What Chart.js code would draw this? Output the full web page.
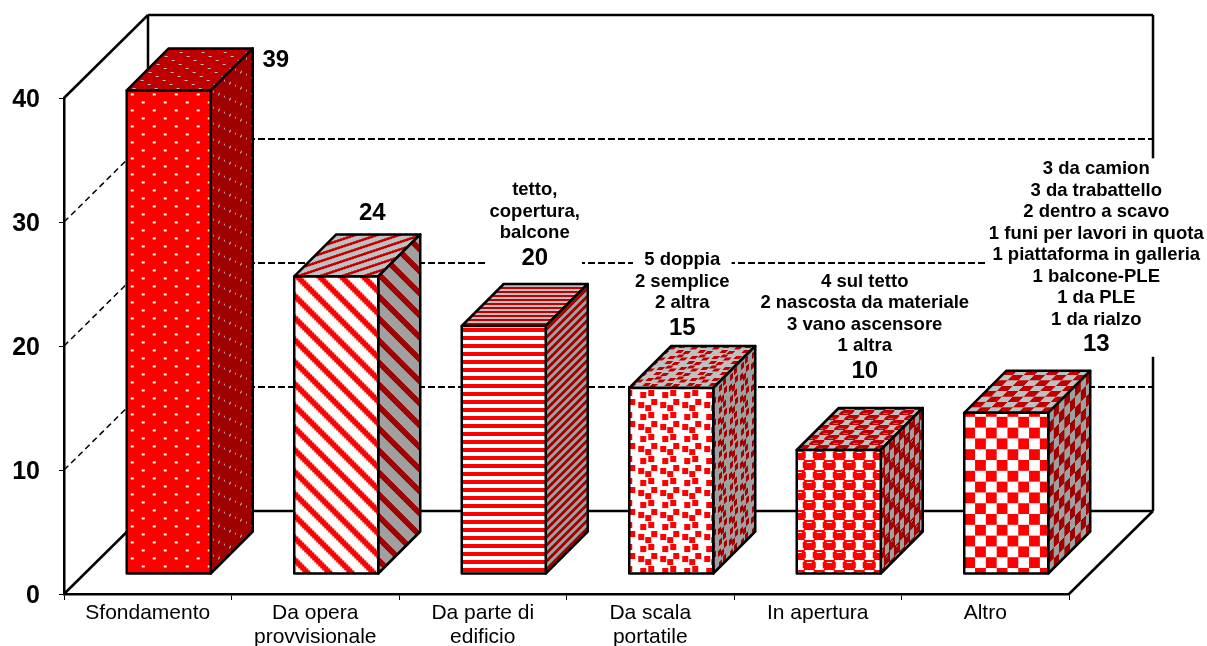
<!DOCTYPE html>
<html>
<head>
<meta charset="utf-8">
<title>Cadute dall'alto</title>
<script src="https://cdn.jsdelivr.net/npm/chart.js@4"></script>
<style>
  html, body { margin: 0; padding: 0; background: #fff; }
  canvas { display: block; }
</style>
</head>
<body>
<canvas id="myChart" width="1207" height="646"></canvas>
<script>
const categories = [
    'Sfondamento',
    ['Da opera', 'provvisionale'],
    ['Da parte di', 'edificio'],
    ['Da scala', 'portatile'],
    'In apertura',
    'Altro'
];
const values = [39, 24, 20, 15, 10, 13];
const notes = [
    [],
    [],
    ['tetto,', 'copertura,', 'balcone'],
    ['5 doppia', '2 semplice', '2 altra'],
    ['4 sul tetto', '2 nascosta da materiale', '3 vano ascensore', '1 altra'],
    ['3 da camion', '3 da trabattello', '2 dentro a scavo', '1 funi per lavori in quota',
     '1 piattaforma in galleria', '1 balcone-PLE', '1 da PLE', '1 da rialzo']
];
const yTicks = [0, 10, 20, 30, 40];

const FONT = '"Liberation Sans", Arial, sans-serif';
// profondità del grafico 3D (pareti) e delle barre
const WALL_X = 84, WALL_Y = 83;
const BAR_X = 42, BAR_Y = 42;
const SHIFT_X = 21, SHIFT_Y = 20;
const EDGE = 2.5;
// spostamento etichette rispetto al centro della barra / spigolo alto posteriore
const labelDx = [107, 36, 31, 11, 26, 90];
const labelDy = [-12, 21, 26, 18, 37, 26];

const FRONT = { red: '#ff0000', pale: '#ffffff' };
const TOP = { red: '#c00000', pale: '#c0c0c0' };
const SIDE = { red: '#a00000', pale: '#a0a0a0' };

// Tessere dei retini, una per barra
const tiles = [
    { w: 22, h: 16, oy: 0, draw(c, col) {
        c.fillStyle = col.red; c.fillRect(0, 0, 22, 16);
        c.fillStyle = col.pale;
        c.fillRect(4, 3, 3, 2); c.fillRect(15, 11, 3, 2);
    } },
    { w: 22, h: 22, oy: 0, draw(c, col) {
        c.fillStyle = col.pale; c.fillRect(0, 0, 22, 22);
        c.fillStyle = col.red;
        for (let y = 0; y < 22; y += 2) {
            for (let x = 0; x < 22; x += 2) {
                if (((x - y + 44) % 22) < 7) c.fillRect(x, y, 2, 2);
            }
        }
    } },
    { w: 8, h: 8, oy: 0, draw(c, col) {
        c.fillStyle = col.pale; c.fillRect(0, 0, 8, 8);
        c.fillStyle = col.red; c.fillRect(0, 2, 8, 4);
    } },
    { w: 22, h: 22, oy: 0, draw(c, col) {
        c.fillStyle = col.pale; c.fillRect(0, 0, 22, 22);
        c.fillStyle = col.red;
        [[0, 11], [11, 4], [19, 2], [9, 14], [16, 17]].forEach(p => {
            c.fillRect(p[0], p[1], 6, 6);
            if (p[0] > 16) c.fillRect(p[0] - 22, p[1], 6, 6);
            if (p[1] > 16) c.fillRect(p[0], p[1] - 22, 6, 6);
        });
    } },
    { w: 20, h: 20, oy: 0, draw(c, col) {
        c.fillStyle = col.pale; c.fillRect(0, 0, 20, 20);
        [[-4, 0], [6, 10], [16, 0]].forEach(p => {
            c.fillStyle = col.red;
            c.fillRect(p[0] + 1, p[1], 11, 10);
            c.fillRect(p[0], p[1] + 2, 13, 6);
            c.fillStyle = col.pale;
            c.fillRect(p[0] + 4, p[1] + 2, 5, 1);
        });
    } },
    { w: 21.6, h: 21.6, oy: 4, draw(c, col) {
        c.fillStyle = col.pale; c.fillRect(0, 0, 22, 22);
        c.fillStyle = col.red;
        c.fillRect(11, 0, 11, 11); c.fillRect(0, 11, 11, 11);
    } }
];

function makePattern(ctx, tile, col) {
    const w = Math.round(tile.w), h = Math.round(tile.h);
    const cv = document.createElement('canvas');
    cv.width = w;
    cv.height = h;
    tile.draw(cv.getContext('2d'), col);
    const p = ctx.createPattern(cv, 'repeat');
    p.scaleX = tile.w / w;
    p.scaleY = tile.h / h;
    return p;
}

const canvas = document.getElementById('myChart');
const mainCtx = canvas.getContext('2d');
const frontPatterns = tiles.map(t => makePattern(mainCtx, t, FRONT));
const topPatterns = tiles.map(t => makePattern(mainCtx, t, TOP));
const sidePatterns = tiles.map(t => makePattern(mainCtx, t, SIDE));

function anchor(p, x, y) {
    p.setTransform(new DOMMatrix([p.scaleX, 0, 0, p.scaleY, x, y]));
}

function line(ctx, x1, y1, x2, y2) {
    ctx.beginPath();
    ctx.moveTo(x1, y1);
    ctx.lineTo(x2, y2);
    ctx.stroke();
}

function drawWalls(chart) {
    const ctx = chart.ctx, y = chart.scales.y, a = chart.chartArea;
    const x0 = a.left, x1 = a.right, y0 = y.getPixelForValue(yTicks[0]), yTop = y.getPixelForValue(40);
    ctx.save();
    ctx.strokeStyle = '#000';
    ctx.lineWidth = EDGE;
    line(ctx, x0, y0, x0 + WALL_X, y0 - WALL_Y);
    line(ctx, x1, y0, x1 + WALL_X, y0 - WALL_Y);
    line(ctx, x0 + WALL_X, y0 - WALL_Y, x1 + WALL_X, y0 - WALL_Y);
    line(ctx, x0 + WALL_X, y0 - WALL_Y, x0 + WALL_X, yTop - WALL_Y);
    line(ctx, x1 + WALL_X, y0 - WALL_Y, x1 + WALL_X, yTop - WALL_Y);
    line(ctx, x0, yTop, x0 + WALL_X, yTop - WALL_Y);
    line(ctx, x0 + WALL_X, yTop - WALL_Y, x1 + WALL_X, yTop - WALL_Y);
    yTicks.slice(1, -1).forEach(v => {
        const py = y.getPixelForValue(v);
        ctx.setLineDash([6, 4]);
        ctx.lineWidth = 1.5;
        line(ctx, x0, py, x0 + WALL_X, py - WALL_Y);
        ctx.setLineDash([7, 3]);
        ctx.lineWidth = 2;
        line(ctx, x0 + WALL_X, py - WALL_Y, x1 + WALL_X, py - WALL_Y);
        ctx.setLineDash([]);
    });
    ctx.restore();
}

function face(ctx, pts, pattern, m, w, h) {
    ctx.save();
    ctx.beginPath();
    pts.forEach((p, i) => i ? ctx.lineTo(p[0], p[1]) : ctx.moveTo(p[0], p[1]));
    ctx.closePath();
    ctx.save();
    ctx.clip();
    ctx.transform(m[0], m[1], m[2], m[3], m[4], m[5]);
    ctx.fillStyle = pattern;
    ctx.fillRect(0, 0, w, h);
    ctx.restore();
    ctx.strokeStyle = '#000';
    ctx.lineWidth = EDGE;
    ctx.lineJoin = 'round';
    ctx.stroke();
    ctx.restore();
}

function drawBarSides(chart) {
    const ctx = chart.ctx;
    chart.getDatasetMeta(0).data.forEach((bar, i) => {
        const l = bar.x - bar.width / 2 + SHIFT_X, r = bar.x + bar.width / 2 + SHIFT_X;
        const t = bar.y - SHIFT_Y, b = bar.base - SHIFT_Y;
        const sx = 0.5, sy = 0.5 * BAR_Y / BAR_X, u = BAR_X / sx;
        anchor(frontPatterns[i], bar.x - bar.width / 2, bar.y + tiles[i].oy);
        anchor(topPatterns[i], 0, 0);
        anchor(sidePatterns[i], 0, 0);
        face(ctx, [[l, t], [l + BAR_X, t - BAR_Y], [r + BAR_X, t - BAR_Y], [r, t]],
            topPatterns[i], [1, 0, sx, -sy, l, t], r - l, u);
        face(ctx, [[r, t], [r + BAR_X, t - BAR_Y], [r + BAR_X, b - BAR_Y], [r, b]],
            sidePatterns[i], [sx, -sy, 0, 1, r, t], u, b - t + BAR_Y);
    });
}

function drawBarOutlines(chart) {
    const ctx = chart.ctx;
    ctx.save();
    ctx.strokeStyle = '#000';
    ctx.lineWidth = EDGE;
    ctx.lineJoin = 'round';
    chart.getDatasetMeta(0).data.forEach(bar => {
        ctx.strokeRect(bar.x - bar.width / 2 + SHIFT_X, bar.y - SHIFT_Y, bar.width, bar.base - bar.y);
    });
    ctx.restore();
}

function drawLabels(chart) {
    const ctx = chart.ctx, noteH = 21.5;
    ctx.save();
    ctx.textAlign = 'center';
    ctx.textBaseline = 'middle';
    chart.getDatasetMeta(0).data.forEach((bar, i) => {
        const cx = bar.x + SHIFT_X + labelDx[i];
        const ny = bar.y - SHIFT_Y - BAR_Y - labelDy[i];
        const lines = notes[i];
        if (lines.length) {
            ctx.font = 'bold 18.5px ' + FONT;
            const w = Math.max(...lines.map(s => ctx.measureText(s).width));
            const top = ny - 25 - (lines.length - 1) * noteH - 11;
            ctx.fillStyle = '#fff';
            ctx.fillRect(cx - w / 2 - 2, top, w + 4, ny + 12 - top);
            ctx.fillStyle = '#000';
            lines.forEach((s, k) => {
                ctx.fillText(s, cx, ny - 25 - (lines.length - 1 - k) * noteH);
            });
        }
        ctx.fillStyle = '#000';
        ctx.font = 'bold 24px ' + FONT;
        ctx.fillText(String(values[i]), cx, ny);
    });
    ctx.restore();
}

const bars3d = {
    id: 'bars3d',
    beforeDatasetsDraw(chart) {
        drawWalls(chart);
        drawBarSides(chart);
        chart.ctx.save();
        chart.ctx.translate(SHIFT_X, -SHIFT_Y);
    },
    afterDatasetsDraw(chart) {
        chart.ctx.restore();
        drawBarOutlines(chart);
        drawLabels(chart);
    }
};

new Chart(mainCtx, {
    type: 'bar',
    data: {
        labels: categories,
        datasets: [{
            data: values,
            backgroundColor: frontPatterns,
            borderWidth: 0,
            barPercentage: 0.5015,
            categoryPercentage: 1,
            clip: false
        }]
    },
    options: {
        responsive: false,
        animation: false,
        layout: { padding: { top: 98, right: 138 } },
        plugins: { legend: { display: false }, tooltip: { enabled: false } },
        scales: {
            x: {
                afterFit(s) { s.height = 52; },
                grid: { drawOnChartArea: false, color: '#000', tickLength: 6, tickWidth: 1 },
                border: { color: '#000', width: 2.5 },
                ticks: {
                    color: '#000',
                    autoSkip: false,
                    maxRotation: 0,
                    padding: 1,
                    font: { family: FONT, size: 21, lineHeight: 1.14 }
                }
            },
            y: {
                min: 0,
                max: 40,
                afterFit(s) { s.width = 64; },
                grid: { drawOnChartArea: false, color: '#000', tickLength: 5, tickWidth: 1 },
                border: { color: '#000', width: 2.5 },
                ticks: {
                    stepSize: 10,
                    color: '#000',
                    padding: 19,
                    labelOffset: 2,
                    font: { family: FONT, size: 25, weight: 'bold' }
                }
            }
        }
    },
    plugins: [bars3d]
});
</script>
</body>
</html>
